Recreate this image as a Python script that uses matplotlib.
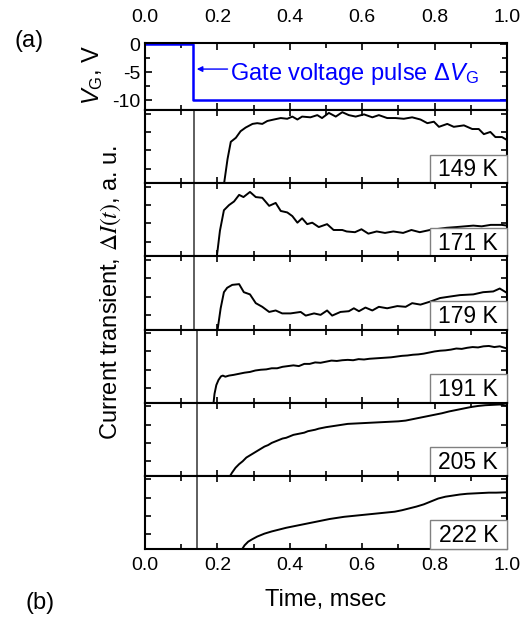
import matplotlib
matplotlib.use("Agg")
import matplotlib.pyplot as plt
from matplotlib.patches import Rectangle
from matplotlib.ticker import MultipleLocator, FixedLocator

plt.rcParams["font.family"] = ["Liberation Sans", "DejaVu Sans"]
plt.rcParams["mathtext.fontset"] = "custom"
plt.rcParams["mathtext.rm"] = "Liberation Sans"
plt.rcParams["mathtext.it"] = "Liberation Sans:italic"
plt.rcParams["axes.unicode_minus"] = False

# gate pulse (top panel)
pulse_t = [0.0, 0.132, 0.132, 1.0]
pulse_v = [0.0, 0.0, -10.0, -10.0]

temps = ["149 K", "171 K", "179 K", "191 K", "205 K", "222 K"]
spike_t = [0.135, 0.135, 0.135, 0.143, 0.143, 0.143]

t149 = [0.218, 0.228, 0.237, 0.251, 0.264, 0.278, 0.297, 0.310, 0.324, 0.338, 0.356,
        0.375, 0.393, 0.407, 0.421, 0.434, 0.457, 0.476, 0.489, 0.508, 0.527, 0.545,
        0.563, 0.582, 0.605, 0.628, 0.646, 0.669, 0.692, 0.715, 0.738, 0.761, 0.780,
        0.798, 0.812, 0.835, 0.853, 0.881, 0.904, 0.922, 0.936, 0.954, 0.968, 0.986, 1.0]
i149 = [-0.02, 0.33, 0.565, 0.62, 0.71, 0.76, 0.81, 0.82, 0.81, 0.85, 0.87,
        0.89, 0.88, 0.91, 0.87, 0.91, 0.90, 0.93, 0.89, 0.96, 0.91, 0.97,
        0.93, 0.91, 0.94, 0.90, 0.93, 0.89, 0.89, 0.88, 0.90, 0.87, 0.82,
        0.84, 0.77, 0.81, 0.77, 0.79, 0.74, 0.74, 0.67, 0.70, 0.63, 0.63, 0.59]

t171 = [0.198, 0.207, 0.218, 0.232, 0.246, 0.260, 0.272, 0.290, 0.306, 0.324, 0.343,
        0.361, 0.375, 0.393, 0.407, 0.421, 0.434, 0.448, 0.462, 0.480, 0.503, 0.521,
        0.545, 0.557, 0.580, 0.598, 0.617, 0.640, 0.663, 0.686, 0.713, 0.736, 0.759,
        0.787, 0.833, 0.86, 0.907, 0.93, 0.955, 0.985, 1.0]
i171 = [-0.02, 0.35, 0.63, 0.70, 0.75, 0.84, 0.81, 0.88, 0.81, 0.80, 0.69,
        0.73, 0.62, 0.60, 0.55, 0.46, 0.52, 0.44, 0.46, 0.40, 0.44, 0.36,
        0.36, 0.34, 0.33, 0.37, 0.31, 0.34, 0.32, 0.34, 0.32, 0.36, 0.33,
        0.36, 0.39, 0.40, 0.42, 0.41, 0.43, 0.43, 0.42]

t179 = [0.200, 0.209, 0.218, 0.227, 0.241, 0.260, 0.273, 0.290, 0.306, 0.324, 0.343,
        0.361, 0.379, 0.402, 0.430, 0.444, 0.467, 0.485, 0.503, 0.517, 0.540, 0.563,
        0.577, 0.591, 0.609, 0.628, 0.646, 0.669, 0.697, 0.720, 0.738, 0.761, 0.787,
        0.815, 0.842, 0.870, 0.907, 0.934, 0.962, 0.980, 1.0]
i179 = [-0.02, 0.29, 0.51, 0.57, 0.61, 0.62, 0.51, 0.48, 0.36, 0.31, 0.24,
        0.26, 0.22, 0.22, 0.24, 0.19, 0.22, 0.20, 0.26, 0.19, 0.24, 0.25,
        0.29, 0.25, 0.30, 0.26, 0.31, 0.29, 0.32, 0.31, 0.36, 0.34, 0.38,
        0.43, 0.45, 0.47, 0.48, 0.51, 0.52, 0.56, 0.50]

t191 = [0.189, 0.192, 0.197, 0.203, 0.210, 0.215, 0.222, 0.232, 0.245, 0.26, 0.275,
        0.29, 0.305, 0.32, 0.335, 0.35, 0.365, 0.38, 0.395, 0.41, 0.425, 0.44, 0.455,
        0.47, 0.485, 0.50, 0.515, 0.53, 0.545, 0.56, 0.575, 0.59, 0.605, 0.62, 0.635,
        0.65, 0.665, 0.68, 0.695, 0.71, 0.725, 0.74, 0.755, 0.77, 0.785, 0.80, 0.815,
        0.83, 0.845, 0.86, 0.875, 0.89, 0.905, 0.92, 0.935, 0.95, 0.965, 0.98, 1.0]
i191 = [-0.02, 0.12, 0.24, 0.31, 0.36, 0.37, 0.355, 0.37, 0.38, 0.395, 0.41,
        0.42, 0.44, 0.45, 0.455, 0.47, 0.47, 0.49, 0.50, 0.51, 0.50, 0.53, 0.53,
        0.55, 0.545, 0.56, 0.575, 0.57, 0.58, 0.585, 0.58, 0.595, 0.59, 0.60, 0.605,
        0.61, 0.615, 0.62, 0.63, 0.64, 0.645, 0.655, 0.66, 0.67, 0.685, 0.70, 0.71,
        0.715, 0.725, 0.74, 0.735, 0.75, 0.76, 0.755, 0.77, 0.775, 0.76, 0.77, 0.74]

t205 = [0.233, 0.24, 0.25, 0.26, 0.27, 0.28, 0.29, 0.30, 0.31, 0.32, 0.33, 0.34,
        0.35, 0.36, 0.37, 0.38, 0.39, 0.40, 0.41, 0.42, 0.43, 0.44, 0.45, 0.46, 0.47,
        0.48, 0.49, 0.50, 0.52, 0.54, 0.56, 0.58, 0.60, 0.62, 0.64, 0.66, 0.68, 0.70,
        0.72, 0.74, 0.76, 0.78, 0.80, 0.82, 0.84, 0.86, 0.88, 0.90, 0.92, 0.94, 0.96,
        0.98, 1.0]
i205 = [-0.02, 0.04, 0.11, 0.16, 0.20, 0.25, 0.28, 0.31, 0.34, 0.37, 0.40, 0.42,
        0.45, 0.47, 0.49, 0.51, 0.52, 0.54, 0.56, 0.57, 0.58, 0.59, 0.61, 0.62, 0.63,
        0.645, 0.655, 0.665, 0.68, 0.695, 0.71, 0.715, 0.72, 0.725, 0.73, 0.735, 0.74,
        0.745, 0.755, 0.775, 0.795, 0.815, 0.835, 0.855, 0.88, 0.90, 0.92, 0.94, 0.955,
        0.965, 0.97, 0.975, 0.96]

t222 = [0.266, 0.275, 0.285, 0.295, 0.31, 0.33, 0.35, 0.37, 0.39, 0.41, 0.43, 0.45,
        0.47, 0.49, 0.51, 0.53, 0.55, 0.57, 0.59, 0.61, 0.63, 0.65, 0.67, 0.69, 0.71,
        0.73, 0.75, 0.77, 0.79, 0.81, 0.83, 0.85, 0.87, 0.89, 0.91, 0.93, 0.95, 0.97,
        1.0]
i222 = [-0.02, 0.05, 0.10, 0.13, 0.17, 0.21, 0.24, 0.265, 0.29, 0.31, 0.33, 0.35,
        0.37, 0.39, 0.41, 0.425, 0.44, 0.45, 0.46, 0.47, 0.48, 0.49, 0.50, 0.51, 0.53,
        0.555, 0.58, 0.61, 0.65, 0.69, 0.715, 0.73, 0.745, 0.755, 0.76, 0.765, 0.77,
        0.77, 0.775]

curves = [(t149, i149), (t171, i171), (t179, i179),
          (t191, i191), (t205, i205), (t222, i222)]

W, H = 526, 617
fig = plt.figure(figsize=(W / 100, H / 100), dpi=100)

left, right = 145 / W, 507 / W
pw = right - left


def style_ticks(ax):
    ax.tick_params(which="both", direction="in", top=True, bottom=True,
                   left=True, right=True, width=1.2, labelsize=14)
    ax.tick_params(which="major", length=5)
    ax.tick_params(which="minor", length=3.5)
    for sp in ax.spines.values():
        sp.set_linewidth(1.5)


# top panel: gate voltage
ax0 = fig.add_axes([left, 1 - 110 / H, pw, 67 / H])
ax0.plot(pulse_t, pulse_v, color="#0000ff", lw=1.8)
ax0.set_xlim(0, 1)
ax0.set_ylim(-11.7, 0.25)
ax0.xaxis.set_major_locator(MultipleLocator(0.2))
ax0.xaxis.set_minor_locator(MultipleLocator(0.1))
ax0.yaxis.set_major_locator(FixedLocator([0, -5, -10]))
ax0.yaxis.set_minor_locator(FixedLocator([-2.5, -7.5]))
style_ticks(ax0)
ax0.tick_params(labeltop=True, labelbottom=False)
ax0.tick_params(axis="x", pad=12)
ax0.set_xticklabels(["%.1f" % v for v in ax0.get_xticks()])
ax0.annotate("", xy=(0.143, -4.4), xytext=(0.228, -4.4),
             arrowprops=dict(arrowstyle="-|>", color="#0000ff", lw=1.0,
                             mutation_scale=8, shrinkA=0, shrinkB=0))
ax0.text(0.234, -5.3, r"Gate voltage pulse $\Delta V_{\rm G}$", color="#0000ff",
         fontsize=17, va="center", ha="left")
fig.text(93 / W, 1 - 75 / H, r"$V_{\rm G}$, V", rotation=90, fontsize=17,
         ha="center", va="center")

# lower panels: current transients
ph = (549 - 110) / 6
for k, (tt, ii) in enumerate(curves):
    top_px = 110 + k * ph
    ax = fig.add_axes([left, 1 - (top_px + ph) / H, pw, ph / H])
    ax.plot(tt, ii, color="black", lw=1.4, zorder=2)
    ax.axvline(spike_t[k], color="#333333", lw=1.1, zorder=1)
    ax.set_xlim(0, 1)
    ax.set_ylim(0, 1)
    ax.xaxis.set_major_locator(MultipleLocator(0.2))
    ax.xaxis.set_minor_locator(MultipleLocator(0.1))
    ax.yaxis.set_major_locator(FixedLocator([0.2, 0.45, 0.7, 0.95]))
    style_ticks(ax)
    ax.tick_params(which="major", length=4)
    ax.tick_params(axis="y", labelleft=False)
    if k < 5:
        ax.tick_params(axis="x", labelbottom=False)
    else:
        ax.set_xticklabels(["%.1f" % v for v in ax.get_xticks()])
        ax.tick_params(axis="x", pad=6)
    ax.add_patch(Rectangle((0.787, 0.0), 0.213, 0.39, transform=ax.transAxes,
                           facecolor="white", edgecolor="#808080", lw=1.0,
                           zorder=3, clip_on=False))
    ax.text(0.893, 0.18, temps[k], transform=ax.transAxes, fontsize=16.5,
            ha="center", va="center", zorder=4)

fig.text(111 / W, 1 - 292 / H, r"Current transient, $\Delta I(t)$, a. u.",
         rotation=90, fontsize=17, ha="center", va="center",
         math_fontfamily="stix")
fig.text(326 / W, 1 - 600 / H, "Time, msec", fontsize=17, ha="center", va="center")
fig.text(29 / W, 1 - 41 / H, "(a)", fontsize=17, ha="center", va="center")
fig.text(40 / W, 1 - 603 / H, "(b)", fontsize=17, ha="center", va="center")

fig.savefig("out.png", dpi=100)
